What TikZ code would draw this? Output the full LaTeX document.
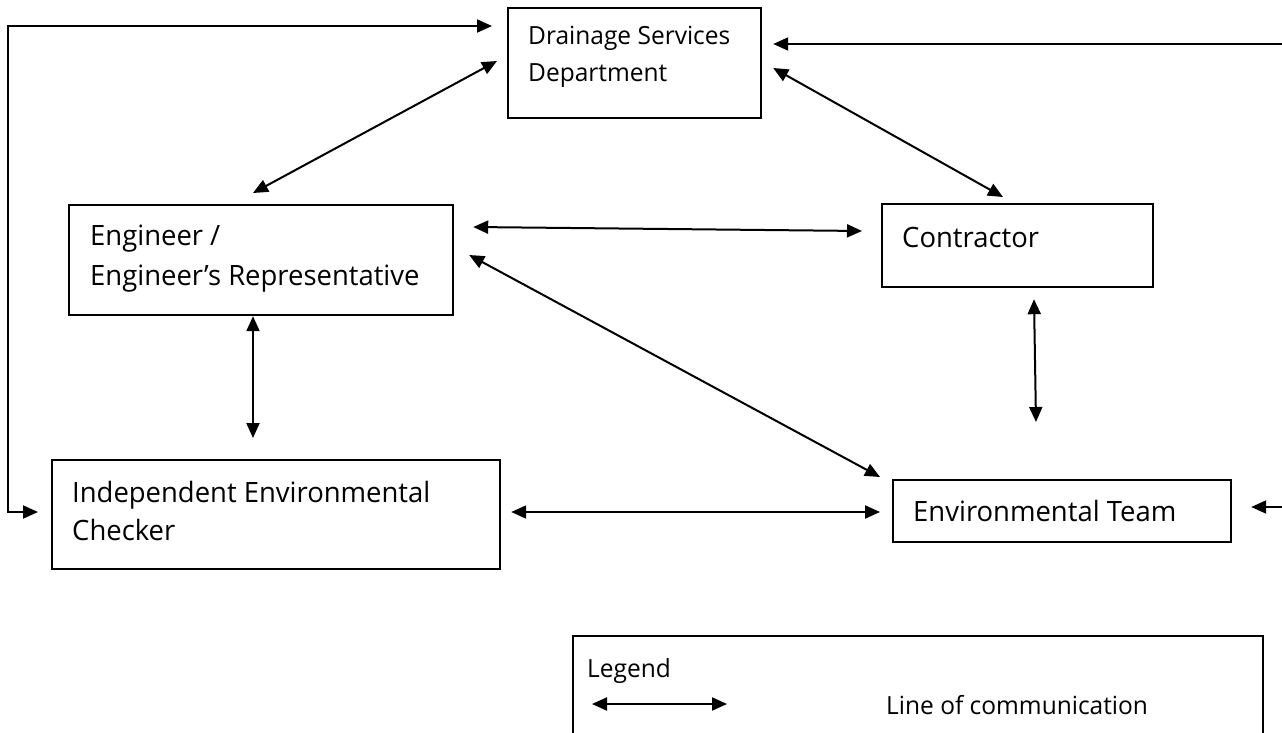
\documentclass[tikz,border=0pt]{standalone}
\usepackage{fontspec}
\setmainfont{Open Sans}[FakeStretch=0.98]
\usetikzlibrary{arrows.meta,calc}
\begin{document}
\begin{tikzpicture}[x=1pt,y=-1pt,
  box/.style={draw=black,line width=2.2pt,minimum width=#1,inner sep=0pt,anchor=north west},
  big/.style={font=\fontsize{28}{34}\selectfont,anchor=base west,inner sep=0pt},
  small/.style={font=\fontsize{25}{30}\selectfont,anchor=base west,inner sep=0pt},
  legtxt/.style={font=\fontsize{25}{30}\selectfont,anchor=base west,inner sep=0pt},
  comm/.style={line width=2pt,{Triangle[length=15pt,width=13pt]}-{Triangle[length=15pt,width=13pt]}},
  onearrow/.style={line width=2pt,-{Triangle[length=15pt,width=13pt]}}]
\clip (0,0) rectangle (1282,733);
\fill[white] (0,0) rectangle (1282,733);
% boxes
\node[box=253pt,minimum height=110pt] (dsd) at (507,7) {};
\node[box=384pt,minimum height=110pt] (eng) at (68,204) {};
\node[box=271pt,minimum height=83pt] (con) at (881,203) {};
\node[box=448pt,minimum height=109pt] (iec) at (51,459) {};
\node[box=338pt,minimum height=62pt] (et) at (892,479) {};
\node[box=690pt,minimum height=130pt] (leg) at (572,635) {};
% texts
\node[small] (dsd1) at (528,45) {Drainage Services};
\node[small] (dsd2) at (528,82) {Department};
\node[big] (eng1) at (90,245) {Engineer /};
\node[big] (eng2) at (90,285) {Engineer’s Representative};
\node[big] (con1) at (902,247) {Contractor};
\node[big] (iec1) at (72,502) {Independent Environmental};
\node[big] (iec2) at (72,540) {Checker};
\node[big] (et1) at (913,521) {Environmental Team};
\node[legtxt] (leg1) at (587,677) {Legend};
\node[legtxt] (leg2) at (886,714) {Line of communication};
% connectors
\draw[comm] ($(dsd.north west)+(-10,54)$) -- ($(eng.north west)+(185,-11)$);
\draw[comm] ($(dsd.north east)+(11,61)$) -- ($(con.north west)+(122,-6)$);
\draw[comm] ($(eng.north east)+(19,23)$) -- ($(con.north west)+(-19,28)$);
\draw[comm] ($(eng.north east)+(15,51)$) -- ($(et.north west)+(-12,-2)$);
\draw[comm] ($(eng.south west)+(185,0)$) -- ($(iec.north west)+(202,-21)$);
\draw[comm] ($(con.south west)+(153,11)$) -- ($(et.north west)+(144,-57)$);
\draw[comm] ($(iec.north east)+(10,53)$) -- ($(et.north west)+(-12,33)$);
\draw[comm] ($(dsd.north west)+(-15,19)$) -| (8,512) -- ($(iec.north west)+(-13,53)$);
\coordinate (rtop) at (1290,44);
\coordinate (rbot) at (1290,507);
\draw[onearrow] (rtop) -- ($(dsd.north east)+(11,37)$);
\draw[onearrow] (rbot) -- ($(et.north east)+(19,28)$);
\coordinate (la) at (592,704);
\coordinate (lb) at (727,704);
\draw[comm] (la) -- (lb);
\end{tikzpicture}
\end{document}
